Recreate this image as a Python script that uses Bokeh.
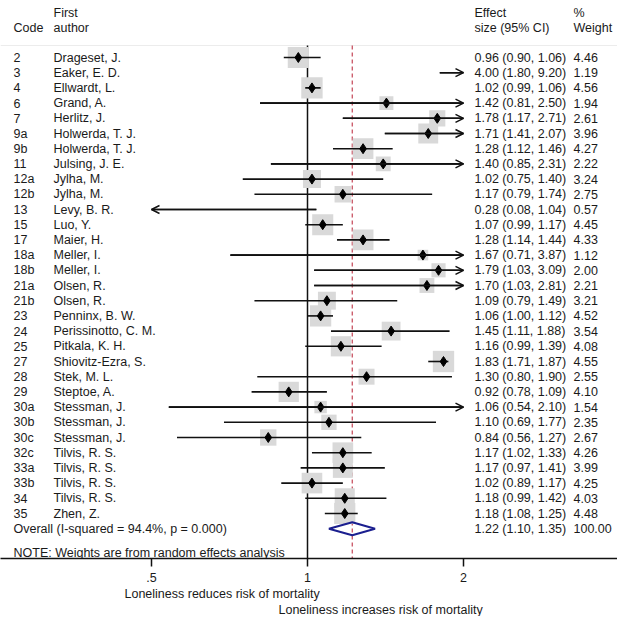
import numpy as np
from bokeh.plotting import figure
from bokeh.models import Range1d, FixedTicker, ColumnDataSource, Arrow, OpenHead, Title
from bokeh.core.properties import value
from bokeh.embed import file_html
from bokeh.resources import INLINE

# ---------------- data ----------------
codes = ["2", "3", "4", "6", "7", "9a", "9b", "11", "12a", "12b", "13", "15", "17",
         "18a", "18b", "21a", "21b", "23", "24", "25", "27", "28", "29", "30a", "30b",
         "30c", "32c", "33a", "33b", "34", "35"]
authors = ["Drageset, J.", "Eaker, E. D.", "Ellwardt, L.", "Grand, A.", "Herlitz, J.",
           "Holwerda, T. J.", "Holwerda, T. J.", "Julsing, J. E.", "Jylha, M.", "Jylha, M.",
           "Levy, B. R.", "Luo, Y.", "Maier, H.", "Meller, I.", "Meller, I.", "Olsen, R.",
           "Olsen, R.", "Penninx, B. W.", "Perissinotto, C. M.", "Pitkala, K. H.",
           "Shiovitz-Ezra, S.", "Stek, M. L.", "Steptoe, A.", "Stessman, J.", "Stessman, J.",
           "Stessman, J.", "Tilvis, R. S.", "Tilvis, R. S.", "Tilvis, R. S.", "Tilvis, R. S.",
           "Zhen, Z."]
effect = [0.96, 4.00, 1.02, 1.42, 1.78, 1.71, 1.28, 1.40, 1.02, 1.17, 0.28, 1.07, 1.28,
          1.67, 1.79, 1.70, 1.09, 1.06, 1.45, 1.16, 1.83, 1.30, 0.92, 1.06, 1.10, 0.84,
          1.17, 1.17, 1.02, 1.18, 1.18]
ci_low = [0.90, 1.80, 0.99, 0.81, 1.17, 1.41, 1.12, 0.85, 0.75, 0.79, 0.08, 0.99, 1.14,
          0.71, 1.03, 1.03, 0.79, 1.00, 1.11, 0.99, 1.71, 0.80, 0.78, 0.54, 0.69, 0.56,
          1.02, 0.97, 0.89, 0.99, 1.08]
ci_high = [1.06, 9.20, 1.06, 2.50, 2.71, 2.07, 1.46, 2.31, 1.40, 1.74, 1.04, 1.17, 1.44,
           3.87, 3.09, 2.81, 1.49, 1.12, 1.88, 1.39, 1.87, 1.90, 1.09, 2.10, 1.77, 1.27,
           1.33, 1.41, 1.17, 1.42, 1.25]
weight = [4.46, 1.19, 4.56, 1.94, 2.61, 3.96, 4.27, 2.22, 3.24, 2.75, 0.57, 4.45, 4.33,
          1.12, 2.00, 2.21, 3.21, 4.52, 3.54, 4.08, 4.55, 2.55, 4.10, 1.54, 2.35, 2.67,
          4.26, 3.99, 4.25, 4.03, 4.48]
overall_es, overall_lo, overall_hi, overall_wt = 1.22, 1.10, 1.35, 100.00
overall_label = "Overall  (I-squared = 94.4%, p = 0.000)"
note_label = "NOTE: Weights are from random effects analysis"
x_ticks = [0.5, 1, 2]
x_tick_labels = [".5", "1", "2"]
clip_min, clip_max = 0.5, 2.0
axis_text_lo = "Loneliness reduces risk of mortality"
axis_text_hi = "Loneliness increases risk of mortality"

# ---------------- geometry helpers (pixel -> data) ----------------
def px(p):
    return 2 ** ((p - 307.0) / 156.0)

def ry(p):
    return (p - 57.0) / 15.2

FONT = value("Liberation Sans")
FS = "12.5px"
TC = "#1a1a1a"
W, AXIS_Y = 617, 558

n = len(codes)
rows = np.arange(n, dtype=float)
es = np.array(effect)
lo = np.array(ci_low)
hi = np.array(ci_high)
wt = np.array(weight)

p = figure(frame_width=W, frame_height=AXIS_Y, x_axis_type="log",
           x_range=Range1d(px(0), px(W)), y_range=Range1d(ry(AXIS_Y), ry(0)),
           y_axis_location=None, toolbar_location=None, output_backend="svg",
           min_border_left=0, min_border_right=0, min_border_top=0,
           min_border_bottom=0)
p.outline_line_color = None
p.grid.visible = False

ax = p.xaxis[0]
ax.ticker = FixedTicker(ticks=x_ticks, minor_ticks=[])
ax.major_label_overrides = dict(zip(x_ticks, x_tick_labels))
ax.axis_line_width = 1.5
ax.axis_line_color = "#111111"
ax.major_tick_line_width = 1.5
ax.major_tick_line_color = "#111111"
ax.major_tick_out = 8
ax.major_tick_in = 0
ax.minor_tick_line_color = None
ax.major_label_text_font = "Liberation Sans"
ax.major_label_text_font_size = FS
ax.major_label_text_color = TC
ax.major_label_standoff = 6

# axis direction captions, stacked below the axis
for t, off in [(axis_text_lo, 124), (axis_text_hi, 278)]:
    p.add_layout(Title(text=t, align="left", offset=off, standoff=0,
                       text_font="Liberation Sans", text_font_size=FS,
                       text_font_style="normal", text_color=TC), "below")

# header separator line
p.segment(x0=px(0), x1=px(W), y0=ry(45), y1=ry(45), line_color="#ececec", line_width=1)

# null line and overall effect line
p.segment(x0=1, x1=1, y0=ry(45), y1=ry(AXIS_Y), line_color="#111111", line_width=1.5)
p.segment(x0=overall_es, x1=overall_es, y0=ry(45), y1=ry(AXIS_Y),
          line_color="#c44455", line_width=1.2, line_dash="4 3")

# weight squares (only for estimates inside the plotted range)
vis = (es >= clip_min) & (es <= clip_max)
sq = ColumnDataSource(dict(x=es[vis], y=rows[vis], s=10.0 * np.sqrt(wt[vis])))
p.scatter(x="x", y="y", size="s", marker="square", source=sq,
          fill_color="#d9d9d9", line_color=None)

# CI lines
x0 = np.clip(lo, clip_min, clip_max)
x1 = np.clip(hi, clip_min, clip_max)
p.segment(x0=x0, x1=x1, y0=rows, y1=rows, line_color="#111111", line_width=1.6)

# arrows for truncated CIs
r_mask = hi > clip_max
if r_mask.any():
    ra = ColumnDataSource(dict(xs=x0[r_mask], xe=np.full(r_mask.sum(), clip_max), y=rows[r_mask]))
    p.add_layout(Arrow(end=OpenHead(size=8, line_width=1.5, line_color="#111111"),
                       x_start="xs", y_start="y", x_end="xe", y_end="y",
                       line_width=1.6, line_color="#111111", source=ra))
l_mask = lo < clip_min
if l_mask.any():
    la = ColumnDataSource(dict(xs=x1[l_mask], xe=np.full(l_mask.sum(), clip_min), y=rows[l_mask]))
    p.add_layout(Arrow(end=OpenHead(size=8, line_width=1.5, line_color="#111111"),
                       x_start="xs", y_start="y", x_end="xe", y_end="y",
                       line_width=1.6, line_color="#111111", source=la))

# point estimates
p.scatter(x=es[vis], y=rows[vis], marker="diamond", size=10,
          fill_color="#000000", line_color="#000000")

# overall diamond
yo = float(n)
h = 0.43
p.patch(x=[overall_lo, overall_es, overall_hi, overall_es],
        y=[yo, yo - h, yo, yo + h], fill_color=None, line_color="#1b1f8f", line_width=2)

# text columns
def txt(x, y, t, align="left"):
    p.text(x=x, y=y, text=t, text_font=FONT, text_font_size=FS, text_color=TC,
           text_baseline="middle", text_align=align)

es_text = [f"{a:.2f} ({b:.2f}, {c:.2f})" for a, b, c in zip(effect, ci_low, ci_high)]
wt_text = [f"{w:.2f}" for w in weight]
txt(px(13), rows, codes)
txt(px(53), rows, authors)
txt(px(474), rows, es_text)
txt(px(573), rows, wt_text)

# headers
txt(px(53), [ry(12)], ["First"])
txt(px(53), [ry(27)], ["author"])
txt(px(13), [ry(27)], ["Code"])
txt(px(474), [ry(12)], ["Effect"])
txt(px(474), [ry(27)], ["size (95% CI)"])
txt(px(573), [ry(12)], ["%"])
txt(px(573), [ry(27)], ["Weight"])

# overall row and note
txt(px(13), [yo], [overall_label])
txt(px(474), [yo], [f"{overall_es:.2f} ({overall_lo:.2f}, {overall_hi:.2f})"])
txt(px(573), [yo], [f"{overall_wt:.2f}"])
txt(px(13), [ry(552)], [note_label])

open("out.html", "w").write(file_html(p, INLINE))
